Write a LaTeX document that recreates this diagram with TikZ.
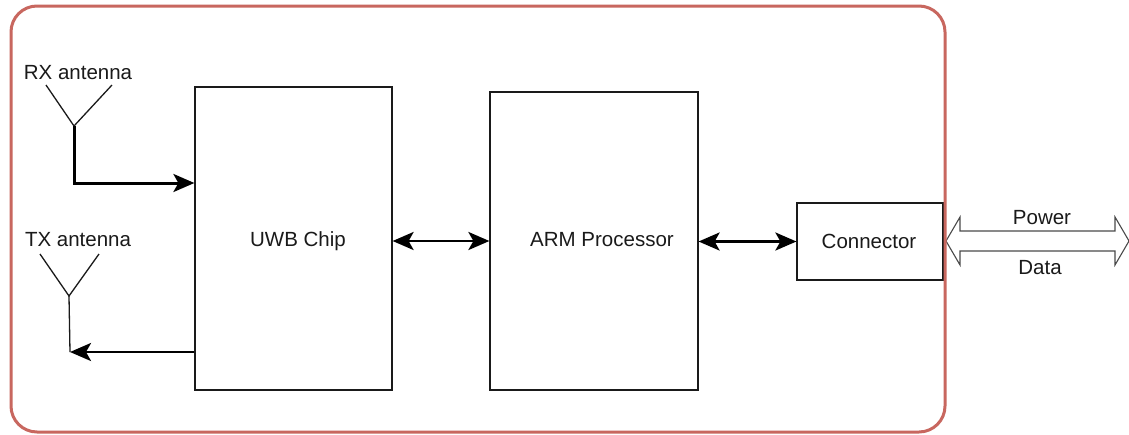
\documentclass[tikz,border=0pt]{standalone}
\usepackage{fontspec}
\setmainfont{Liberation Sans}
\usetikzlibrary{arrows.meta}
\definecolor{framecol}{HTML}{C8675F}
\definecolor{ink}{HTML}{1A1A1A}
\definecolor{hollow}{HTML}{4A4A4A}
\begin{document}
\begin{tikzpicture}[x=1pt,y=-1pt,
  blk/.style={draw=ink, line width=1.2pt, inner sep=0pt},
  lbl/.style={font=\fontsize{20.5}{24}\selectfont, text=ink, inner sep=0pt},
  flow/.style={draw=black, line width=2.8pt, -{Stealth[length=21pt,width=18pt,inset=5pt]}},
  biflow/.style={draw=black, line width=2.8pt, {Stealth[length=21pt,width=18pt,inset=5pt]}-{Stealth[length=21pt,width=18pt,inset=5pt]}},
  ant/.style={draw=ink, line width=1.3pt, line join=miter},
  ]
\useasboundingbox (0,0) rectangle (1129,434);
\fill[white] (0,0) rectangle (1129,434);

% blocks
\node[blk, minimum width=197pt, minimum height=303pt] (uwb) at (293.5,238.5) {};
\node[blk, minimum width=208pt, minimum height=298pt] (arm) at (594,241) {};
\node[blk, minimum width=146pt, minimum height=77pt] (conn) at (870,241.5) {};
\node[lbl] (uwbl) at (298,241) {UWB Chip};
\node[lbl] (arml) at (602,240) {ARM Processor};
\node[lbl] (connl) at (869,241) {Connector};

% antennas
\node[lbl] (rxl) at (78,73) {RX antenna};
\node[lbl] (txl) at (78,240) {TX antenna};
\coordinate (rxa) at (74,126);
\coordinate (txa) at (69,296);
\draw[ant] (46,85) -- (rxa) -- (112,85);
\draw[ant] (40,254) -- (txa) -- (99,254);

% feeds
\draw[flow, line width=3pt] (rxa) |- (uwb.west |- 0,183);
\coordinate (txc) at (70,352);
\draw[ant] (txa) -- (txc);
\draw[flow] (uwb.west |- txc) -- (txc);

% inter-block arrows
\draw[biflow] (uwb.east |- arm.west) -- (arm.west);
\draw[biflow] (arm.east |- conn.west) -- (conn.west);

% hollow double arrow
\draw[hollow, line width=1.1pt, fill=white, line join=miter]
  (946,241) -- (960,217) -- (960,231) -- (1115,231) -- (1115,217) -- (1129,241)
  -- (1115,265) -- (1115,251) -- (960,251) -- (960,265) -- cycle;
\node[lbl] (pw) at (1042,218) {Power};
\node[lbl] (dt) at (1040,268) {Data};

% outer frame
\draw[framecol, line width=3pt, rounded corners=26pt] (11,6) rectangle (945,432);
\end{tikzpicture}
\end{document}
